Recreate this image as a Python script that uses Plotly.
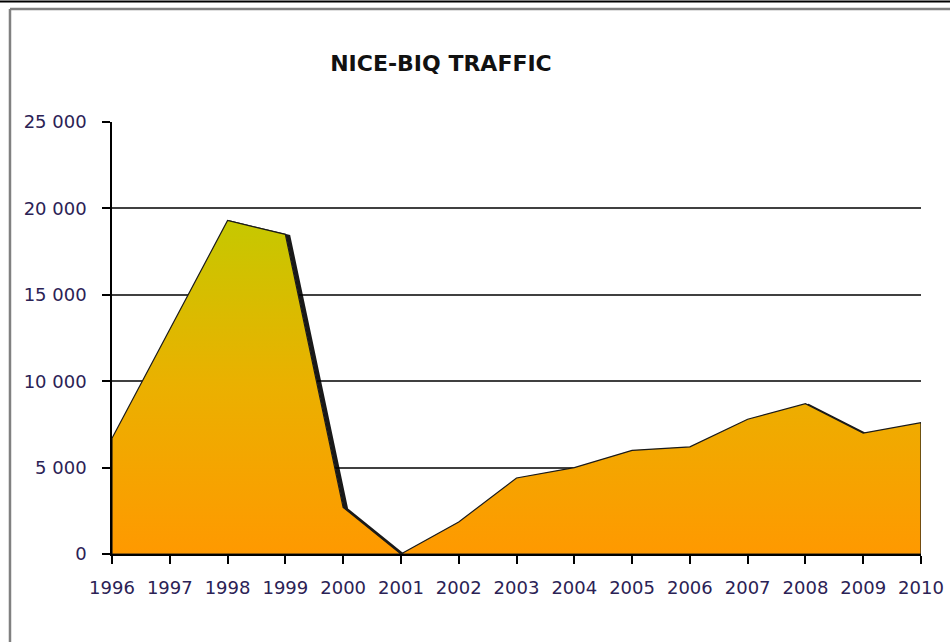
import plotly.graph_objects as go

years = [1996, 1997, 1998, 1999, 2000, 2001, 2002, 2003, 2004, 2005, 2006, 2007, 2008, 2009, 2010]
traffic = [6700, 13000, 19300, 18500, 2700, 0, 1850, 4400, 5000, 6000, 6200, 7800, 8700, 7000, 7600]
y_ticks = [0, 5000, 10000, 15000, 20000, 25000]
title_text = "NICE-BIQ TRAFFIC"

# closed outline (baseline along zero) so the vertical edges are outlined too
poly_x = years + [years[-1], years[0], years[0]]
poly_y = traffic + [0, 0, traffic[0]]

# shadow offset (Excel-like drop shadow)
sdx, sdy = 0.05, -140
shadow_x = [x + sdx for x in poly_x]
shadow_y = [y + sdy for y in poly_y]

fig = go.Figure()
fig.add_trace(go.Scatter(
    x=shadow_x, y=shadow_y, mode="lines",
    line=dict(color="rgba(0,0,0,0.9)", width=4.5),
    hoverinfo="skip", showlegend=False,
))
fig.add_trace(go.Scatter(
    x=poly_x, y=poly_y, mode="lines", fill="toself",
    fillgradient=dict(type="vertical",
                      colorscale=[[0, "#FF9900"], [0.5, "#EBB000"], [1, "#C6C800"]]),
    line=dict(color="#1a1a1a", width=1.2),
    showlegend=False,
))

tick_font = dict(family="DejaVu Sans, Verdana, sans-serif", size=18, color="#2b2255")

fig.update_layout(
    width=950, height=642,
    margin=dict(l=112, r=29, t=122, b=88, autoexpand=False),
    paper_bgcolor="white", plot_bgcolor="white",
    separators=". ",
    title=dict(text="<b>" + title_text + "</b>", x=0.4642, y=0.9019,
               xref="container", yref="container", xanchor="center", yanchor="middle",
               font=dict(family="DejaVu Sans, Verdana, sans-serif", size=22, color="#111111")),
    xaxis=dict(range=[years[0], years[-1]], tickmode="array", tickvals=years,
               ticktext=[str(y) for y in years], automargin=False,
               showgrid=False, zeroline=False, showline=True, linecolor="black", linewidth=1.5,
               ticks="outside", ticklen=8, tickcolor="black", tickwidth=1.5,
               tickfont=tick_font, ticklabelstandoff=9),
    yaxis=dict(range=[0, 25000], tickvals=y_ticks, tickformat=",d", separatethousands=True,
               automargin=False,
               showgrid=True, gridcolor="#404040", gridwidth=1.6, zeroline=False,
               showline=True, linecolor="black", linewidth=1.5,
               ticks="outside", ticklen=8, tickcolor="black", tickwidth=1.5,
               tickfont=tick_font, ticklabelstandoff=12),
    shapes=[
        dict(type="line", xref="paper", yref="paper", x0=-0.1261, x1=-0.1261, y0=-0.21, y1=1.2616,
             line=dict(color="#808080", width=2.5)),
        dict(type="line", xref="paper", yref="paper", x0=-0.1261, x1=1.04, y0=1.2616, y1=1.2616,
             line=dict(color="#808080", width=2.5)),
        dict(type="line", xref="paper", yref="paper", x0=-0.15, x1=1.04, y0=1.279, y1=1.279,
             line=dict(color="black", width=2)),
    ],
)

fig.write_html("out.html", config={"displayModeBar": False},
               post_script="document.body.style.margin='0';")
